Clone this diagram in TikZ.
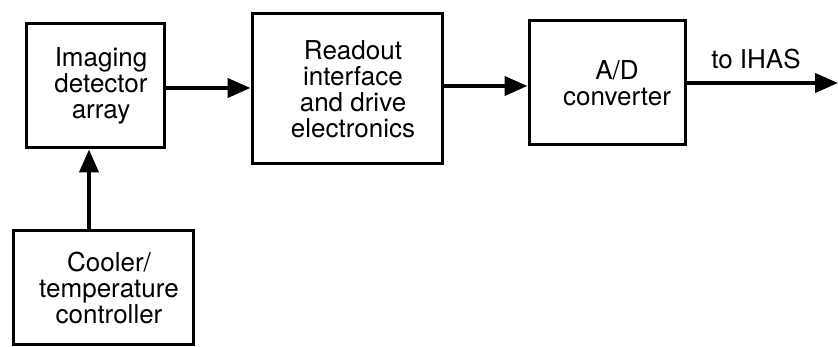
\documentclass[tikz,border=0pt]{standalone}
\usepackage{fontspec}
\setmainfont{TeX Gyre Heros}
\usetikzlibrary{arrows.meta}
\begin{document}
\begin{tikzpicture}[x=1pt,y=1pt,
  block/.style={draw, line width=3pt, inner sep=0pt},
  txt/.style={align=center, inner sep=0pt, xshift=6pt,
    font=\fontsize{26}{26}\selectfont},
  flow/.style={line width=4pt, -{Triangle[length=23pt,width=19pt]}}]
\useasboundingbox (0,0) rectangle (838,347);

% processing chain
\node[block, minimum width=138pt, minimum height=124pt,
  label={[txt]center:Imaging\\detector\\array}] (det) at (95,261) {};
\node[block, minimum width=190pt, minimum height=150pt,
  label={[txt]center:Readout\\interface\\and drive\\electronics}] (rd) at (347,258) {};
\node[block, minimum width=156pt, minimum height=124pt,
  label={[txt, xshift=4pt]center:A/D\\converter}] (adc) at (607,264) {};
\node[block, minimum width=180pt, minimum height=114pt,
  label={[txt]center:Cooler/\\temperature\\controller}] (cool) at (103,59) {};

% connector end points
\coordinate (detout) at ([yshift=-2pt]det.east);
\coordinate (rdout) at ([yshift=3pt]rd.east);
\coordinate (out) at (838,264);

% signal path
\draw[flow] (detout) -- (rd.west |- detout);
\draw[flow] (rdout) -- (adc.west |- rdout);
\draw[flow] (adc.east) -- (out);
\node[font=\fontsize{26}{26}\selectfont, anchor=base] (ihas) at (756,278) {to IHAS};

% cooling control
\draw[flow] ([xshift=-14pt]cool.north) -- ([xshift=-6pt]det.south);
\end{tikzpicture}
\end{document}
